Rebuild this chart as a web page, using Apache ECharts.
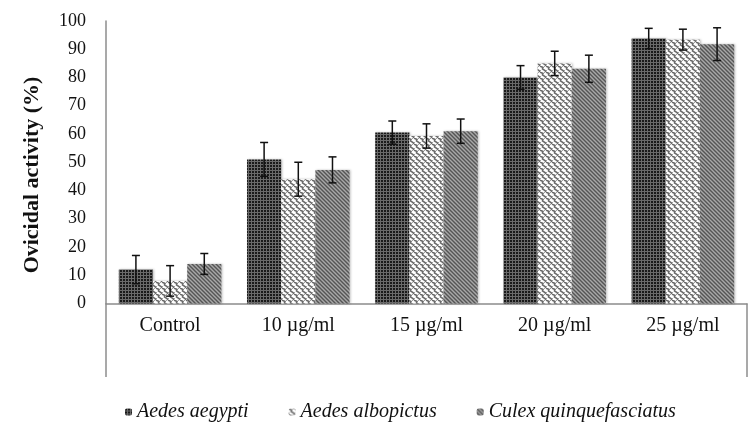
<!DOCTYPE html>
<html><head><meta charset="utf-8">
<script src="https://cdn.jsdelivr.net/npm/echarts@6/dist/echarts.min.js"></script>
<style>html,body{margin:0;padding:0;background:#fff;}#c{width:749px;height:430px;}</style>
</head><body><div id="c"></div>
<script>
const categories = ['Control', '10 µg/ml', '15 µg/ml', '20 µg/ml', '25 µg/ml'];
const seriesNames = ['Aedes aegypti', 'Aedes albopictus', 'Culex quinquefasciatus'];
const aegypti = [12, 51, 60.5, 80, 93.8];
const aegyptiErr = [5, 6, 4.1, 4.2, 3.6];
const albopictus = [8, 44, 59.3, 85, 93.4];
const albopictusErr = [5.4, 6, 4.3, 4.3, 3.7];
const culex = [14, 47.3, 61, 83.1, 91.8];
const culexErr = [3.7, 4.6, 4.3, 4.8, 5.8];
const yTicks = [0, 10, 20, 30, 40, 50, 60, 70, 80, 90, 100];
const yTitle = 'Ovicidal activity (%)';

function tile(w, h, draw) {
  const c = document.createElement('canvas');
  c.width = w; c.height = h;
  draw(c.getContext('2d'));
  return c;
}
const patDark = tile(3, 3, g => {
  g.fillStyle = '#6a6a6a'; g.fillRect(0, 0, 3, 3);
  g.fillStyle = '#1a1a1a'; g.fillRect(0, 0, 2, 2);
});
const patZig = tile(6, 6, g => {
  g.fillStyle = '#ffffff'; g.fillRect(0, 0, 6, 6);
  g.strokeStyle = '#6a6a6a'; g.lineWidth = 1.6;
  g.beginPath();
  for (let k = -6; k <= 6; k += 6) {
    g.moveTo(k + 0, 0); g.lineTo(k + 3, 1.5); g.lineTo(k + 2.5, 3); g.lineTo(k + 5, 4.5); g.lineTo(k + 6, 6);
  }
  g.stroke();
  g.fillStyle = '#a0a0a0'; g.fillRect(4, 0, 1, 1); g.fillRect(0, 4, 1, 1);
});
const patStripe = tile(4, 4, g => {
  g.fillStyle = '#a8a8a8'; g.fillRect(0, 0, 4, 4);
  g.strokeStyle = '#555555'; g.lineWidth = 1.4;
  g.beginPath();
  g.moveTo(-1, -1); g.lineTo(5, 5);
  g.moveTo(-1, 3); g.lineTo(1, 5);
  g.moveTo(3, -1); g.lineTo(5, 1);
  g.stroke();
});
const patterns = [patDark, patZig, patStripe];
const values = [aegypti, albopictus, culex];
const errs = [aegyptiErr, albopictusErr, culexErr];

const series = [];
values.forEach((v, i) => {
  series.push({
    name: seriesNames[i], type: 'bar', data: v,
    barGap: '0%', barCategoryGap: '20%',
    itemStyle: { color: { image: patterns[i], repeat: 'repeat' },
      shadowColor: 'rgba(0,0,0,0.25)', shadowBlur: 2, shadowOffsetX: 1, shadowOffsetY: 0 },
    emphasis: { disabled: true }
  });
});
values.forEach((v, i) => {
  series.push({
    name: 'err' + i, type: 'custom', z: 10,
    data: v.map((val, j) => [j, val - errs[i][j], val + errs[i][j]]),
    renderItem: (params, api) => {
      const j = api.value(0);
      const catW = api.size([1, 0])[0];
      const bw = catW * 0.8 / 3;
      const lo = api.coord([j, api.value(1)]);
      const hi = api.coord([j, api.value(2)]);
      const x = lo[0] + (i - 1) * bw;
      const cap = 4;
      const st = { stroke: '#111', lineWidth: 1.5 };
      return { type: 'group', children: [
        { type: 'line', shape: { x1: x, y1: lo[1], x2: x, y2: hi[1] }, style: st },
        { type: 'line', shape: { x1: x - cap, y1: lo[1], x2: x + cap, y2: lo[1] }, style: st },
        { type: 'line', shape: { x1: x - cap, y1: hi[1], x2: x + cap, y2: hi[1] }, style: st }
      ] };
    }
  });
});

const chart = echarts.init(document.getElementById('c'), null, { renderer: 'canvas' });
const font = '"Liberation Serif", "Times New Roman", serif';
chart.setOption({
  animation: false,
  textStyle: { fontFamily: font },
  grid: { left: 106, right: 2, top: 21, bottom: 126.5, containLabel: false },
  legend: {
    data: seriesNames, left: 120, top: 397, itemWidth: 7, itemHeight: 7, itemGap: 40,
    textStyle: { fontFamily: font, fontStyle: 'italic', fontSize: 20, color: '#111' },
    selectedMode: false
  },
  xAxis: {
    type: 'category', data: categories,
    axisLine: { lineStyle: { color: '#8c8c8c', width: 1.5 } },
    axisTick: { show: false },
    axisLabel: { fontFamily: font, fontSize: 20, color: '#111', margin: 12 }
  },
  yAxis: {
    type: 'value', min: 0, max: 100, interval: 10,
    axisLine: { show: true, lineStyle: { color: '#8c8c8c', width: 1.5 } },
    axisTick: { show: false },
    splitLine: { show: false },
    axisLabel: { fontFamily: font, fontSize: 18, color: '#111', margin: 20,
      formatter: v => yTicks.includes(v) ? String(v) : '' }
  },
  series: series
});
const gw = chart.getModel().getComponent('grid').coordinateSystem.getRect();
chart.setOption({
  graphic: [
    { type: 'line', shape: { x1: gw.x, y1: gw.y + gw.height, x2: gw.x, y2: 377 }, style: { stroke: '#8c8c8c', lineWidth: 1.5 } },
    { type: 'line', shape: { x1: gw.x + gw.width, y1: gw.y + gw.height, x2: gw.x + gw.width, y2: 377 }, style: { stroke: '#8c8c8c', lineWidth: 1.5 } },
    { type: 'text', x: 32, y: 175, rotation: Math.PI / 2,
      style: { text: yTitle, font: 'bold 22px ' + font, fill: '#111', align: 'center', verticalAlign: 'middle' } }
  ]
});
</script></body></html>
